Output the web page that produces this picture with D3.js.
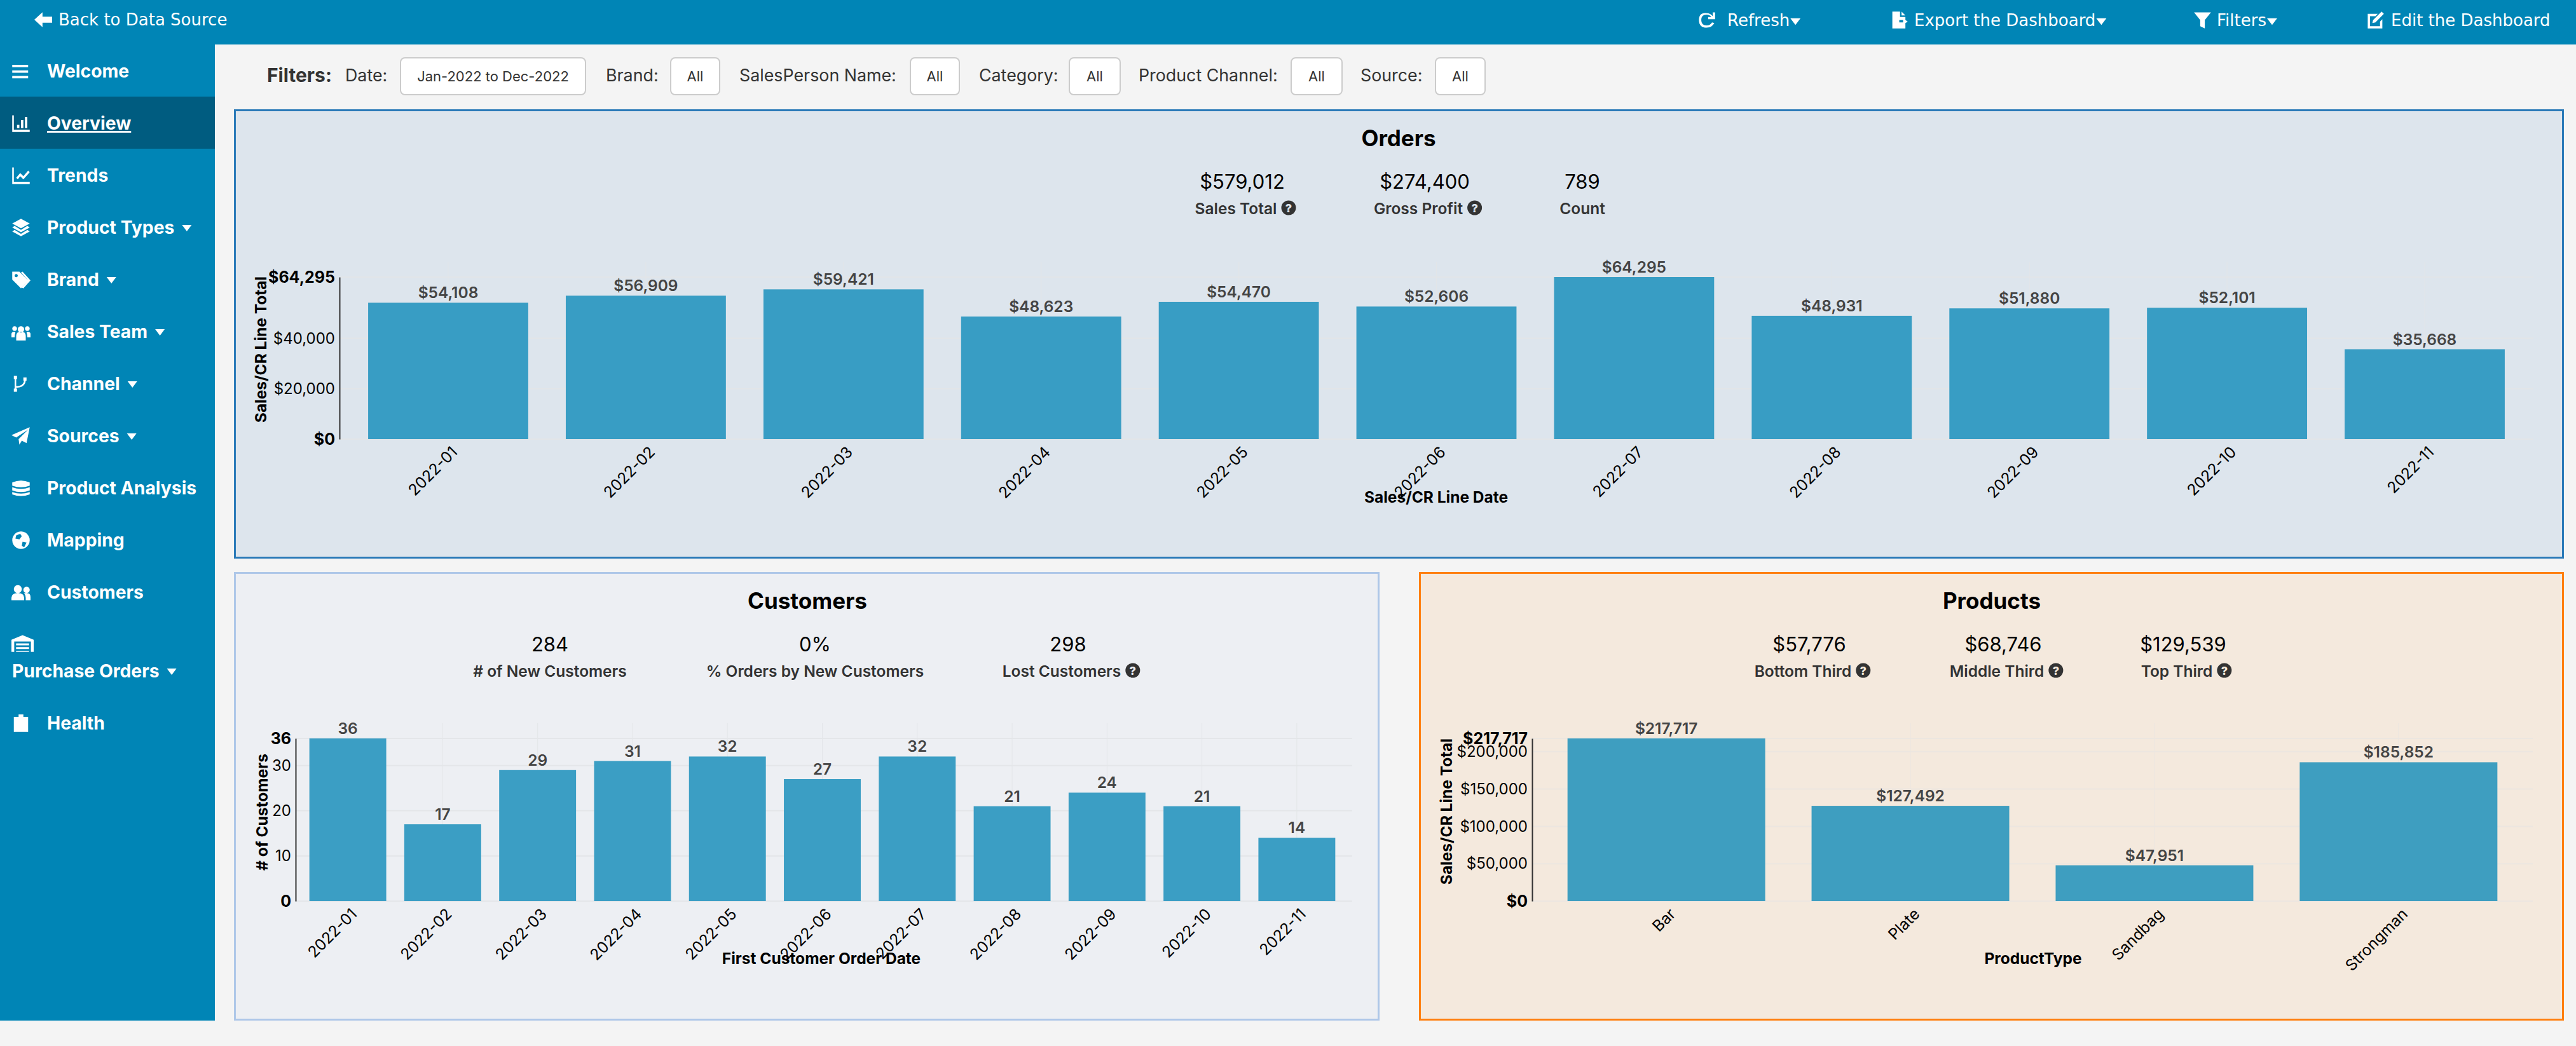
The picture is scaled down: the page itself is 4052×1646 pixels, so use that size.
<!DOCTYPE html>
<html>
<head>
<meta charset="utf-8">
<script src="https://cdn.jsdelivr.net/npm/d3@7"></script>
<style>
  body { margin: 0; background: #f4f4f4; }
  svg { display: block; }
  text { font-family: Inter, Roboto, sans-serif; }
  .nav text { font-weight: 700; font-size: 28.3px; fill: #fff; }
  .topbar text { font-family: "DejaVu Sans", sans-serif; font-size: 26px; fill: #fff; }
  .filter { font-size: 26.8px; fill: #333; }
  .btn { font-size: 22px; fill: #333; text-anchor: middle; }
</style>
</head>
<body>
<svg id="page" width="4052" height="1646"></svg>
<script>
// data
const orderMonths = ["2022-01","2022-02","2022-03","2022-04","2022-05","2022-06","2022-07","2022-08","2022-09","2022-10","2022-11"];
const orderSales = [54108,56909,59421,48623,54470,52606,64295,48931,51880,52101,35668];
const orderTicks = [0,20000,40000,64295];

const customerMonths = ["2022-01","2022-02","2022-03","2022-04","2022-05","2022-06","2022-07","2022-08","2022-09","2022-10","2022-11"];
const newCustomers = [36,17,29,31,32,27,32,21,24,21,14];
const customerTicks = [0,10,20,30,36];

const productTypes = ["Bar","Plate","Sandbag","Strongman"];
const productSales = [217717,127492,47951,185852];
const productTicks = [0,50000,100000,150000,200000,217717];

const orderKpis = [["$579,012","Sales Total",true],["$274,400","Gross Profit",true],["789","Count",false]];
const customerKpis = [["284","# of New Customers",false],["0%","% Orders by New Customers",false],["298","Lost Customers",true]];
const productKpis = [["$57,776","Bottom Third",true],["$68,746","Middle Third",true],["$129,539","Top Third",true]];

const navLabels = ["Welcome","Overview","Trends","Product Types","Brand","Sales Team","Channel","Sources","Product Analysis","Mapping","Customers","Purchase Orders","Health"];
const navCarets = ["Product Types","Brand","Sales Team","Channel","Sources","Purchase Orders"];
const filterLabels = ["Date:","Brand:","SalesPerson Name:","Category:","Product Channel:","Source:"];
const filterValues = ["Jan-2022 to Dec-2022","All","All","All","All","All"];

const svg = d3.select("#page");
const dollars = d3.format("$,");

// simple icon outlines in a 24 box
const icons = {
  Welcome: "M1 4h20v3H1zM1 11h20v3H1zM1 18h20v3H1z",
  Overview: "M1 2h2v18h20v3H1zM7 14h3v4H7zM12 8h3v10h-3zM17 4h3v14h-3z",
  Trends: "M1 2h2v18h20v3H1zM6 15l5-6 4 4 6-7 2 2-8 9-4-4-3 4z",
  "Product Types": "M12 1l11 6-11 6L1 7zM1 12l3-2 8 5 8-5 3 2-11 6zM1 17l3-2 8 5 8-5 3 2-11 6z",
  Brand: "M1 2h9l11 11-9 10L1 12zM6 5a2 2 0 1 0 .01 0zM14 2l10 11-9 10-2-1 8-9-9-10z",
  "Sales Team": "M12 5a4 4 0 1 0 .01 0zM4 5a3 3 0 1 0 .01 0zM20 5a3 3 0 1 0 .01 0zM6 23v-6q0-5 6-5t6 5v6zM0 19v-4q0-3 4-3l1 1q-1 2-1 6zM24 19v-4q0-3-4-3l-1 1q1 2 1 6z",
  Channel: "M3 2h4v4H6v12h1v4H3v-4h1V6H3zM15 4h4v4h-4zM5 15q10 0 11-7h2q-1 9-13 9z",
  Sources: "M23 1l-4 20-6-3-3 5-1-7L21 4 6 14l-6-3z",
  "Product Analysis": "M1 5q11-5 22 0v4q-11 4-22 0zM1 11q11 4 22 0v4q-11 4-22 0zM1 17q11 4 22 0v3q-11 4-22 0z",
  Mapping: "M12 1a11 11 0 1 0 .01 0zM6 6l5-2 2 3-3 4-5-1zM14 14l5 1-3 6-3-2z",
  Customers: "M8 3a5 5 0 1 0 .01 0zM19 5a4 4 0 1 0 .01 0zM0 22v-3q0-6 8-6t8 6v3zM18 22v-3q0-3-2-6h3q5 0 5 5v4z",
  "Purchase Orders": "M0 8l12-5 12 5v13h-3V10H3v11H0zM5 12h14v2H5zM5 16h14v2H5zM5 20h14v1H5z",
  Health: "M9 1h6v3h6v19H3V4h6zM7 13l2-2 2 2 5-5 2 2-7 7z",
  back: "M0 12L11 2v6h13v8H11v6z",
  refresh: "M12 3q5 0 8 4V2h3v9h-9V8h4q-2-3-6-3-7 0-7 7t7 7q5 0 7-4l3 1q-3 6-10 6-10 0-10-10T12 3z",
  exportFile: "M3 1h10v7h7v4h-8v3h8v8H3zM15 1l5 5h-5zM17 10l6 4-6 4z",
  funnel: "M1 2h22l-8 10v11l-6-3v-8z",
  edit: "M2 4h13l-3 3H5v13h13v-6l3-3v12H2zM20 1l3 3-11 11-4 1 1-4z"
};

function icon(parent, name, x, y, size) {
  parent.append("path")
    .attr("d", icons[name])
    .attr("fill", "#fff")
    .attr("transform", "translate(" + x + "," + y + ") scale(" + size / 24 + ")");
}

// small dropdown arrow after a label
function caret(parent, textSel, gap, yMid, w) {
  const box = textSel.node().getBBox();
  const x0 = box.x + box.width + gap;
  parent.append("path")
    .attr("d", d3.line()([[x0, yMid - w / 3], [x0 + w, yMid - w / 3], [x0 + w / 2, yMid + w / 3]]) + "Z")
    .attr("fill", "#fff");
}

// page chrome
const topBlue = "#0085b6";
svg.append("rect").attr("width", 4052).attr("height", 70).attr("fill", topBlue);
svg.append("rect").attr("y", 70).attr("width", 338).attr("height", 1536).attr("fill", topBlue);

const topbar = svg.append("g").attr("class", "topbar");
icon(topbar, "back", 54, 17, 28);
topbar.append("text").attr("x", 92).attr("y", 40).text("Back to Data Source");
[
  ["refresh", 2670, 2717, "Refresh", true],
  ["exportFile", 2973, 3011, "Export the Dashboard", true],
  ["funnel", 3450, 3487, "Filters", true],
  ["edit", 3722, 3761, "Edit the Dashboard", false]
].forEach(function(d) {
  icon(topbar, d[0], d[1], 17, 29);
  const t = topbar.append("text").attr("x", d[2]).attr("y", 41).text(d[3]);
  if (d[4]) caret(topbar, t, 1, 34, 16);
});

const nav = svg.append("g").attr("class", "nav");
nav.append("rect").attr("y", 152).attr("width", 338).attr("height", 82).attr("fill", "#005c80");
navLabels.forEach(function(label, i) {
  let y = 112 + i * 82;
  let t;
  if (label === "Purchase Orders") {
    icon(nav, label, 18, 995, 35);
    t = nav.append("text").attr("x", 19).attr("y", 1066).text(label);
    caret(nav, t, 12, 1057, 15);
    return;
  }
  if (label === "Health") y = 1138;
  icon(nav, label, 18, y - 15, 30);
  t = nav.append("text").attr("x", 74).attr("y", y + 10).text(label);
  if (navCarets.includes(label)) caret(nav, t, 12, y + 1, 15);
  if (label === "Overview") t.attr("text-decoration", "underline");
});

// filter row
svg.append("text").attr("x", 420).attr("y", 129)
  .attr("font-weight", 700).attr("font-size", 30).attr("fill", "#333").text("Filters:");
const filterSlots = [[543,630,921],[953,1055,1132],[1163,1432,1509],[1540,1682,1762],[1791,2031,2111],[2140,2258,2336]];
filterLabels.forEach(function(label, i) {
  const s = filterSlots[i];
  svg.append("text").attr("class", "filter").attr("x", s[0]).attr("y", 128).text(label);
  svg.append("rect").attr("x", s[1]).attr("y", 91).attr("width", s[2] - s[1]).attr("height", 58)
    .attr("rx", 7).attr("fill", "#fff").attr("stroke", "#ccc").attr("stroke-width", 2);
  svg.append("text").attr("class", "btn").attr("x", (s[1] + s[2]) / 2).attr("y", 128).text(filterValues[i]);
});

function drawPanel(p) {
  svg.append("rect")
    .attr("x", p.box[0] + 1.5).attr("y", p.box[1] + 1.5)
    .attr("width", p.box[2] - p.box[0] - 3).attr("height", p.box[3] - p.box[1] - 3)
    .attr("fill", p.bg).attr("stroke", p.border).attr("stroke-width", 3);
  svg.append("text").attr("x", p.titleX).attr("y", p.box[1] + 58)
    .attr("text-anchor", "middle").attr("font-weight", 700).attr("font-size", 35).attr("fill", "#000")
    .text(p.title);

  p.kpis.forEach(function(k, i) {
    // the help icon pushes the label group a little right of its number
    const labelX = p.kpiX[i] + (k[2] ? 5 : 0);
    svg.append("text").attr("x", p.kpiX[i]).attr("y", p.box[1] + 125)
      .attr("text-anchor", "middle").attr("font-size", 31).attr("fill", "#000").text(k[0]);
    const label = svg.append("text").attr("x", labelX).attr("y", p.box[1] + 165)
      .attr("text-anchor", "middle").attr("font-weight", 600).attr("font-size", 24.5).attr("fill", "#333").text(k[1]);
    if (k[2]) {
      const w = label.node().getComputedTextLength();
      label.attr("x", labelX - 15);
      const cx = labelX + w / 2 + 3.5;
      svg.append("circle").attr("cx", cx).attr("cy", p.box[1] + 155).attr("r", 11.5).attr("fill", "#333");
      svg.append("text").attr("x", cx).attr("y", p.box[1] + 162).attr("text-anchor", "middle")
        .attr("font-size", 18).attr("font-weight", 800).attr("fill", p.bg).text("?");
    }
  });

  const x = d3.scaleBand().domain(p.categories).range([p.plot.left, p.plot.bandRight])
    .paddingInner(0.19).paddingOuter(0.145);
  const y = d3.scaleLinear().domain([0, d3.max(p.values)]).range([p.plot.bottom, p.plot.top]);

  const g = svg.append("g");

  // grid
  g.selectAll("line.hgrid").data(p.ticks).join("line")
    .attr("x1", p.plot.left).attr("x2", p.plot.right)
    .attr("y1", d => y(d)).attr("y2", d => y(d))
    .attr("stroke", p.grid).attr("stroke-width", 2);
  g.selectAll("line.vgrid").data(p.categories).join("line")
    .attr("x1", d => x(d) + x.bandwidth() / 2).attr("x2", d => x(d) + x.bandwidth() / 2)
    .attr("y1", p.plot.top - 24).attr("y2", p.plot.bottom)
    .attr("stroke", p.grid).attr("stroke-width", 1);

  g.selectAll("rect.bar").data(p.values).join("rect")
    .attr("fill", p.barColor)
    .attr("x", (d, i) => x(p.categories[i]))
    .attr("width", x.bandwidth())
    .attr("y", d => y(d))
    .attr("height", d => p.plot.bottom - y(d));

  g.selectAll("text.val").data(p.values).join("text")
    .attr("x", (d, i) => x(p.categories[i]) + x.bandwidth() / 2)
    .attr("y", d => y(d) - 7)
    .attr("text-anchor", "middle").attr("font-weight", 600).attr("font-size", 24.5).attr("fill", "#444")
    .text(p.format);

  // axes
  const yAxis = g.append("g").attr("transform", "translate(" + p.plot.left + ",0)")
    .call(d3.axisLeft(y).tickValues(p.ticks).tickFormat(p.format).tickSize(0).tickPadding(7));
  yAxis.select(".domain").attr("stroke", "#333").attr("stroke-width", 2);
  const yMax = d3.max(p.values);
  yAxis.selectAll("text").attr("font-family", "Inter, Roboto, sans-serif").attr("fill", "#000")
    .attr("font-size", d => (d === 0 || d === yMax) ? 25 : 24)
    .attr("font-weight", d => (d === 0 || d === yMax) ? 700 : 400);

  const xAxis = g.append("g").attr("transform", "translate(0," + p.plot.bottom + ")")
    .call(d3.axisBottom(x).tickSize(0).tickPadding(0));
  xAxis.select(".domain").remove();
  xAxis.selectAll("text")
    .attr("font-size", 24.5).attr("font-family", "Inter, Roboto, sans-serif").attr("fill", "#000")
    .attr("text-anchor", "end").attr("dy", 0).attr("y", 0)
    .attr("transform", "translate(16,22) rotate(-45)");

  g.append("text").attr("x", p.xTitle[0]).attr("y", p.xTitle[1])
    .attr("text-anchor", "middle").attr("font-weight", 700).attr("font-size", 24.5).attr("fill", "#000").text(p.xLabel);
  g.append("text").attr("transform", "translate(" + p.yTitle[0] + "," + p.yTitle[1] + ") rotate(-90)")
    .attr("text-anchor", "middle").attr("font-weight", 700).attr("font-size", 24.5).attr("fill", "#000").text(p.yLabel);
}

drawPanel({
  title: "Orders", titleX: 2200, box: [368, 172, 4033, 879], bg: "#dde5ed", border: "#2a7ab8", grid: "#e2e5e8",
  kpis: orderKpis, kpiX: [1954, 2241, 2489],
  categories: orderMonths, values: orderSales, ticks: orderTicks, format: dollars,
  plot: { left: 534, right: 3985, bandRight: 3985, top: 436, bottom: 691 }, barColor: "#389dc4",
  xLabel: "Sales/CR Line Date", xTitle: [2259, 791], yLabel: "Sales/CR Line Total", yTitle: [419, 550]
});
drawPanel({
  title: "Customers", titleX: 1270, box: [368, 900, 2170, 1606], bg: "#edeff3", border: "#aec7e8", grid: "#e4e6e9",
  kpis: customerKpis, kpiX: [865, 1282, 1680],
  categories: customerMonths, values: newCustomers, ticks: customerTicks, format: d => d,
  plot: { left: 465, right: 2127, bandRight: 2122, top: 1162, bottom: 1418 }, barColor: "#3b9ec4",
  xLabel: "First Customer Order Date", xTitle: [1292, 1517], yLabel: "# of Customers", yTitle: [421, 1278]
});
drawPanel({
  title: "Products", titleX: 3133, box: [2232, 900, 4033, 1606], bg: "#f4e9dd", border: "#ff7f0e", grid: "#ece6e0",
  kpis: productKpis, kpiX: [2846, 3151, 3434],
  categories: productTypes, values: productSales, ticks: productTicks, format: dollars,
  plot: { left: 2410, right: 3984, bandRight: 3984, top: 1162, bottom: 1418 }, barColor: "#3e9ec0",
  xLabel: "ProductType", xTitle: [3198, 1517], yLabel: "Sales/CR Line Total", yTitle: [2284, 1277]
});
</script>
</body>
</html>
